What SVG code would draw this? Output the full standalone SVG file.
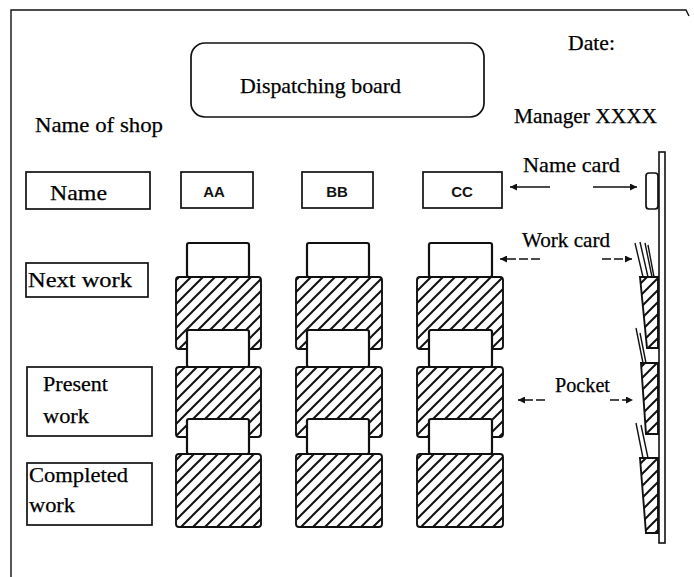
<svg xmlns="http://www.w3.org/2000/svg" width="694" height="577" viewBox="0 0 694 577">
<style>
.t{font-family:"Liberation Serif","Times New Roman",serif;font-size:22px;fill:#000;stroke:#000;stroke-width:0.25}
.s{font-family:"Liberation Sans",Arial,sans-serif;font-size:15px;font-weight:bold;fill:#111;text-anchor:middle}
.box{fill:#fff;stroke:#111;stroke-width:1.7}
.pk{fill:url(#hatch);stroke:#111;stroke-width:1.9}
.card{fill:#fff;stroke:#111;stroke-width:2.2}
.ln{stroke:#111;stroke-width:1.4;fill:none}
.dash{stroke:#111;stroke-width:1.4;fill:none;stroke-dasharray:9 3}
</style>
<defs>
<pattern id="hatch" patternUnits="userSpaceOnUse" width="12" height="12">
<rect width="12" height="12" fill="#fff"/>
<path d="M-3,3 L3,-3 M0,12 L12,0 M9,15 L15,9" stroke="#111" stroke-width="2"/>
</pattern>
<marker id="ah" viewBox="0 0 10 10" refX="10" refY="5" markerWidth="9" markerHeight="7" markerUnits="userSpaceOnUse" orient="auto-start-reverse">
<path d="M0,0 L10,5 L0,10 Z" fill="#111"/>
</marker>
</defs>
<rect width="694" height="577" fill="#fff"/>
<g id="frame">
<path d="M11,577 L11,10 L686,10 L689,16" class="ln" stroke-width="2"/>
</g>
<g id="title">
<rect x="191" y="43" width="293" height="74" rx="14" class="box"/>
<text x="240" y="93" class="t" textLength="161" lengthAdjust="spacingAndGlyphs">Dispatching board</text>
</g>
<g id="header-texts">
<text x="35" y="132" class="t" textLength="128" lengthAdjust="spacingAndGlyphs">Name of shop</text>
<text x="568" y="50" class="t" textLength="47" lengthAdjust="spacingAndGlyphs">Date:</text>
<text x="514" y="123" class="t" textLength="143" lengthAdjust="spacingAndGlyphs">Manager XXXX</text>
</g>
<g id="row-labels">
<g id="lbl-name"><rect x="26" y="172" width="124" height="37" class="box"/><text x="50" y="200" class="t" textLength="57" lengthAdjust="spacingAndGlyphs">Name</text></g>
<g id="lbl-next"><rect x="26" y="263" width="122" height="34" class="box"/><text x="28" y="287" class="t" textLength="104" lengthAdjust="spacingAndGlyphs">Next work</text></g>
<g id="lbl-present"><rect x="27" y="367" width="125" height="69" class="box"/><text x="43" y="391" class="t" textLength="65" lengthAdjust="spacingAndGlyphs">Present</text><text x="43" y="423" class="t" textLength="46" lengthAdjust="spacingAndGlyphs">work</text></g>
<g id="lbl-completed"><rect x="27" y="463" width="125" height="62" class="box"/><text x="29" y="482" class="t" textLength="99" lengthAdjust="spacingAndGlyphs">Completed</text><text x="29" y="512" class="t" textLength="46" lengthAdjust="spacingAndGlyphs">work</text></g>
</g>
<g id="name-cards">
<g id="nc-aa"><rect x="181" y="172" width="72" height="36" class="box"/><text x="214" y="197" class="s">AA</text></g>
<g id="nc-bb"><rect x="302" y="172" width="71" height="36" class="box"/><text x="337" y="197" class="s">BB</text></g>
<g id="nc-cc"><rect x="423" y="172" width="79" height="36" class="box"/><text x="462" y="197" class="s">CC</text></g>
</g>
<g id="col-aa">
<rect x="176" y="277" width="85" height="72" rx="3" class="pk"/>
<rect x="176" y="367" width="85" height="70" rx="3" class="pk"/>
<rect x="176" y="454" width="85" height="73" rx="3" class="pk"/>
<rect x="187" y="243" width="62" height="34" rx="2" class="card"/>
<rect x="187" y="330" width="62" height="37" rx="2" class="card"/>
<rect x="187" y="419" width="62" height="35" rx="2" class="card"/>
</g>
<g id="col-bb">
<rect x="296" y="277" width="86" height="72" rx="3" class="pk"/>
<rect x="296" y="367" width="86" height="70" rx="3" class="pk"/>
<rect x="296" y="454" width="86" height="73" rx="3" class="pk"/>
<rect x="307" y="243" width="62" height="34" rx="2" class="card"/>
<rect x="307" y="330" width="62" height="37" rx="2" class="card"/>
<rect x="307" y="419" width="62" height="35" rx="2" class="card"/>
</g>
<g id="col-cc">
<rect x="417" y="277" width="86" height="72" rx="3" class="pk"/>
<rect x="417" y="367" width="86" height="70" rx="3" class="pk"/>
<rect x="417" y="454" width="86" height="73" rx="3" class="pk"/>
<rect x="429" y="243" width="63" height="34" rx="2" class="card"/>
<rect x="429" y="330" width="63" height="37" rx="2" class="card"/>
<rect x="429" y="419" width="63" height="35" rx="2" class="card"/>
</g>
<g id="side-view">
<rect x="659" y="152" width="6" height="391" fill="#fff" stroke="#111" stroke-width="1.6"/>
<rect x="646" y="173" width="12" height="36" rx="3" class="box"/>
<path d="M640,277 L658,277 L658,348 L647,348 Z" class="pk"/>
<path d="M641,363 L658,363 L658,434 L646,434 Z" class="pk"/>
<path d="M640,458 L658,458 L658,533 L646,533 Z" class="pk"/>
<path d="M635,243 L643,277 M640,242 L648,277 M645,243 L652,277 M648,245 L654,277" class="ln"/>
<path d="M636,328 L643,363 M640,333 L646,363" class="ln"/>
<path d="M636,423 L643,458 M641,425 L648,458" class="ln"/>
</g>
<g id="callouts">
<text x="523" y="172" class="t" textLength="97" lengthAdjust="spacingAndGlyphs">Name card</text>
<text x="522" y="247" class="t" textLength="88" lengthAdjust="spacingAndGlyphs">Work card</text>
<text x="555" y="392" class="t" textLength="55" lengthAdjust="spacingAndGlyphs">Pocket</text>
</g>
<g id="connectors">
<line x1="550" y1="187" x2="510" y2="187" class="ln" marker-end="url(#ah)"/>
<line x1="593" y1="187" x2="637" y2="187" class="ln" marker-end="url(#ah)"/>
<line x1="540" y1="259" x2="500" y2="259" class="dash" marker-end="url(#ah)"/>
<line x1="602" y1="259" x2="632" y2="259" class="dash" marker-end="url(#ah)"/>
<line x1="545" y1="400" x2="518" y2="400" class="dash" marker-end="url(#ah)"/>
<line x1="610" y1="400" x2="633" y2="400" class="dash" marker-end="url(#ah)"/>
</g>
</svg>
